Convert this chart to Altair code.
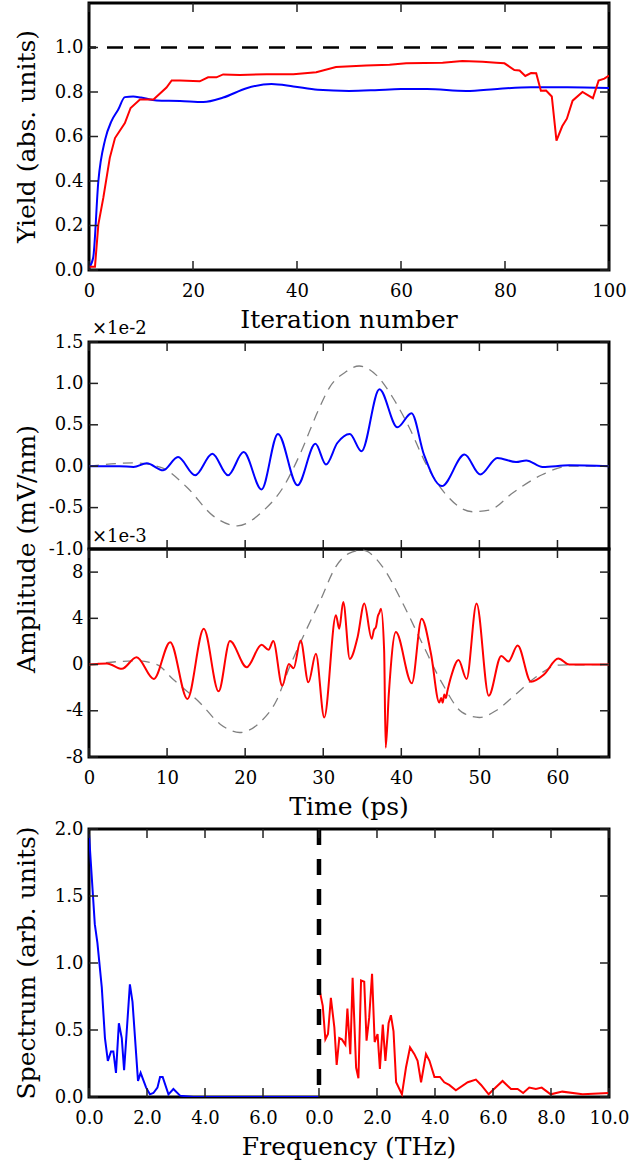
import altair as alt
import pandas as pd

FONT = "DejaVu Serif"
W = 520
H1, H2, H3, H4 = 267, 207, 208, 268
GAP = 72
TL = 9  # inward tick length
TICK_COLOR = "#222222"
TITLE_SIZE = 25

# ---------------- Panel 1: yield vs iteration ----------------
iter_blue = [0, 0.8, 1.8, 3.1, 4.3, 5.6, 6.9, 8.5, 10, 13, 17.5, 22, 25.8, 30.3, 35.1, 39.3,
             44, 50, 55, 60, 65, 72.5, 79, 85, 92, 100]
yield_blue = [0.01, 0.055, 0.40, 0.586, 0.668, 0.72, 0.777, 0.78, 0.775, 0.762, 0.760, 0.755,
              0.775, 0.817, 0.836, 0.825, 0.81, 0.805, 0.808, 0.813, 0.813, 0.805, 0.815,
              0.821, 0.821, 0.818]
iter_red = [0, 1.15, 1.8, 2.75, 4.0, 5.0, 6.9, 8.0, 9.8, 12.4, 14.9, 15.9, 17.5, 21.3, 22.9,
            24.5, 25.8, 29, 34.2, 39.3, 43.7, 47.5, 53.3, 57.8, 61, 68, 71.8, 75.7, 78.3,
            79.9, 81.8, 82.8, 83.9, 85.0, 86.0, 86.9, 87.9, 89.0, 89.9, 91.0, 91.9, 93.0,
            94.9, 96.9, 98.0, 99.1, 100]
yield_red = [0.015, 0.015, 0.205, 0.324, 0.504, 0.593, 0.66, 0.728, 0.766, 0.766, 0.82, 0.852,
             0.852, 0.848, 0.866, 0.866, 0.879, 0.876, 0.880, 0.880, 0.889, 0.912, 0.919,
             0.922, 0.929, 0.932, 0.939, 0.936, 0.932, 0.929, 0.899, 0.897, 0.872, 0.885,
             0.884, 0.806, 0.807, 0.780, 0.581, 0.646, 0.680, 0.761, 0.80, 0.772, 0.851,
             0.860, 0.874]
ref_level = [1.0]
p1_xticks = [0, 20, 40, 60, 80, 100]
p1_yticks = [0.0, 0.2, 0.4, 0.6, 0.8, 1.0]

# ---------------- Panel 2: blue waveform (x1e-2) ----------------
t_blue = [0, 3.9, 5.7, 7.4, 9.5, 11.4, 13.6, 15.8, 17.8, 19.8, 22.1, 24.2, 26.7, 29.0, 30.35,
          31.8, 33.4, 34.9, 37.2, 39.5, 41.3, 42.9, 45.2, 48.1, 50.1, 52.3, 54.7, 56.0, 58.1,
          61.5, 66.6]
amp_blue = [0, 0, -0.01, 0.035, -0.05, 0.11, -0.11, 0.15, -0.11, 0.17, -0.28, 0.39, -0.23, 0.27,
            0.02, 0.28, 0.39, 0.18, 0.93, 0.47, 0.64, 0.14, -0.24, 0.14, -0.10, 0.10, 0.05,
            0.07, -0.01, 0.01, 0]
t_env_blue = [0, 5.7, 9.1, 12.5, 15.9, 19.0, 22.3, 24.9, 27.0, 29.3, 30.8, 32.9, 34.6, 36.8,
              38.9, 41.0, 43.2, 45.7, 49.1, 51.3, 54.3, 58.1, 61.5, 66.6]
env_blue = [0, 0.04, -0.01, -0.25, -0.60, -0.72, -0.54, -0.25, 0.14, 0.66, 0.95, 1.14, 1.21,
            1.10, 0.83, 0.47, 0.02, -0.34, -0.55, -0.53, -0.32, -0.10, 0, 0]
p2_yticks = [-1.0, -0.5, 0.0, 0.5, 1.0, 1.5]

# ---------------- Panel 3: red waveform (x1e-3) ----------------
t_red = [0, 2.3, 4.2, 6.1, 8.3, 10.4, 12.6, 14.7, 16.6, 18.05, 20.2, 22.1, 23.0, 23.6, 24.75,
         25.6, 26.2, 27.1, 28.1, 29.06, 30.13, 31.63, 32.05, 32.56, 33.4, 34.4, 35.26, 36.2,
         36.5, 36.75, 37.0, 37.2, 37.4, 37.8, 38.0, 38.4, 39.3, 41.35, 42.6, 43.8, 44.86,
         45.1, 45.3, 45.5, 45.7, 45.9, 46.35, 47.33, 48.36, 49.64, 51.2, 52.8, 53.7, 54.9,
         56.6, 58.3, 60.1, 61.5, 66.6]
amp_red = [0, 0.1, -0.37, 0.64, -1.25, 1.94, -2.98, 3.1, -2.32, 2.03, -0.23, 1.71, 1.28, 2.03,
           -1.83, 0.05, -0.33, 2.09, -1.54, 0.93, -4.58, 4.26, 3.1, 5.42, 0.49, 2.37, 5.28,
           2.23, 3.0, 3.25, 4.2, 4.5, 4.84, 1.22, -7.19, -2.54, 2.81, -1.62, 3.97, 0.93,
           -3.28, -2.9, -3.3, -2.6, -2.9, -2.3, -1.1, 0.4, -1.25, 5.28, -2.70, 0.75, 0.26,
           1.65, -1.48, -0.84, 0.52, 0, 0]
t_env_red = [0, 6.1, 8.7, 10.8, 14.2, 16.8, 19.3, 21.9, 24.0, 25.7, 27.8, 29.6, 31.6, 33.3,
             35.0, 37.6, 40.2, 42.7, 45.3, 47.8, 50.0, 52.1, 54.7, 57.2, 60.2, 66.6]
env_red = [0, 0.32, 0, -1.3, -3.3, -5.16, -5.88, -5.0, -3.13, -0.2, 2.96, 5.5, 8.46, 9.62,
           9.9, 8.46, 5.28, 1.8, -1.7, -4.14, -4.58, -4.0, -2.55, -1.1, -0.05, 0]
p3_yticks = [-8, -4, 0, 4, 8]
time_ticks = [0, 10, 20, 30, 40, 50, 60]

# ---------------- Panel 4: spectra ----------------
SPLIT = 7.93  # where the second frequency axis starts
f_blue = [0, 0.2, 0.29, 0.44, 0.55, 0.65, 0.76, 0.84, 0.93, 1.03, 1.13, 1.21, 1.41, 1.5, 1.69,
          1.78, 1.97, 2.1, 2.22, 2.36, 2.45, 2.54, 2.74, 2.91, 3.14, 3.6, 5.0, 7.93]
s_blue = [1.96, 1.29, 1.15, 0.82, 0.44, 0.27, 0.34, 0.34, 0.18, 0.55, 0.44, 0.20, 0.84, 0.71,
          0.12, 0.18, 0.07, 0.02, 0.03, 0.07, 0.15, 0.15, 0.02, 0.06, 0.01, 0.0, 0.0, 0.0]
f_red = [0.0, 0.13, 0.22, 0.31, 0.41, 0.53, 0.61, 0.70, 0.79, 0.91, 0.98, 1.08, 1.16, 1.28,
         1.36, 1.45, 1.56, 1.64, 1.73, 1.83, 1.92, 2.02, 2.10, 2.20, 2.29, 2.40, 2.48, 2.57,
         2.66, 2.86, 3.0, 3.14, 3.29, 3.40, 3.52, 3.69, 3.81, 3.98, 4.17, 4.32, 4.49, 4.72,
         5.13, 5.41, 5.59, 5.85, 5.99, 6.33, 6.62, 6.85, 7.04, 7.25, 7.48, 7.68, 7.99, 8.39,
         9.09, 9.99]
s_red = [0.82, 0.68, 0.43, 0.47, 0.74, 0.52, 0.24, 0.44, 0.43, 0.39, 0.66, 0.32, 0.89, 0.22,
         0.14, 0.87, 0.86, 0.42, 0.59, 0.92, 0.41, 0.47, 0.21, 0.54, 0.27, 0.55, 0.61, 0.49,
         0.11, 0.02, 0.22, 0.37, 0.32, 0.27, 0.11, 0.32, 0.27, 0.15, 0.15, 0.11, 0.09, 0.05,
         0.11, 0.13, 0.09, 0.02, 0.05, 0.12, 0.06, 0.06, 0.03, 0.07, 0.06, 0.07, 0.02, 0.04,
         0.02, 0.03]
freq_ticks_left = [0, 2, 4, 6]
freq_ticks_right = [0, 2, 4, 6, 8, 10]
p4_yticks = [0.0, 0.5, 1.0, 1.5, 2.0]


def inward_ticks(xs, ys, h, xscale, yscale, xaxis, yaxis):
    dx = pd.DataFrame({"v": xs})
    dy = pd.DataFrame({"v": ys})
    st = dict(color=TICK_COLOR, strokeWidth=1.5)
    X = alt.X("v:Q", scale=xscale, axis=xaxis)
    Y = alt.Y("v:Q", scale=yscale, axis=yaxis)
    return [
        alt.Chart(dx).mark_rule(**st).encode(x=X, y=alt.value(h), y2=alt.value(h - TL)),
        alt.Chart(dx).mark_rule(**st).encode(x=X, y=alt.value(0), y2=alt.value(TL)),
        alt.Chart(dy).mark_rule(**st).encode(y=Y, x=alt.value(0), x2=alt.value(TL)),
        alt.Chart(dy).mark_rule(**st).encode(y=Y, x=alt.value(W), x2=alt.value(W - TL)),
    ]


def label(text, x, y, size=TITLE_SIZE, angle=0, align="center", baseline="middle"):
    kw = dict(font=FONT, fontSize=size, color="black", align=align, baseline=baseline)
    if angle:
        kw["angle"] = angle
    return alt.Chart(pd.DataFrame({"t": [text]})).mark_text(**kw).encode(
        text="t:N", x=alt.value(x), y=alt.value(y))


def line(df, xcol, ycol, xs, ys, xaxis, yaxis, color, width=2.0, dash=None, interp="linear"):
    kw = dict(color=color, strokeWidth=width, interpolate=interp, clip=True)
    if dash:
        kw["strokeDash"] = dash
    return alt.Chart(df).mark_line(**kw).encode(
        x=alt.X(f"{xcol}:Q", scale=xs, axis=xaxis),
        y=alt.Y(f"{ycol}:Q", scale=ys, axis=yaxis),
        order=alt.Order(f"{xcol}:Q"),
    )


def spacer():
    return alt.Chart(pd.DataFrame({"v": [0]})).mark_point(opacity=0).encode(
        x=alt.value(0), y=alt.value(0)
    ).properties(width=W, height=GAP, view=alt.ViewBackground(strokeOpacity=0, strokeWidth=0))


TITLE_X = -62
XTITLE_DY = 58

# ----- Panel 1 -----
xs1 = alt.Scale(domain=[0, 100], nice=False, zero=False)
ys1 = alt.Scale(domain=[0, 1.2], nice=False, zero=False)
ax1x = alt.Axis(values=p1_xticks, format="d", title=None)
ax1y = alt.Axis(values=p1_yticks, format=".1f", title=None)
df_b1 = pd.DataFrame({"it": iter_blue, "y": yield_blue})
df_r1 = pd.DataFrame({"it": iter_red, "y": yield_red})
p1 = alt.layer(
    alt.Chart(pd.DataFrame({"v": ref_level})).mark_rule(color="black", strokeWidth=2.5, strokeDash=[16, 11]).encode(
        y=alt.Y("v:Q", scale=ys1, axis=ax1y)),
    line(df_b1, "it", "y", xs1, ys1, ax1x, ax1y, "#0000ff", interp="monotone"),
    line(df_r1, "it", "y", xs1, ys1, ax1x, ax1y, "#ff0000"),
    *inward_ticks(p1_xticks, p1_yticks, H1, xs1, ys1, ax1x, ax1y),
    label("Yield (abs. units)", TITLE_X, H1 / 2, angle=270),
    label("Iteration number", W / 2, H1 + XTITLE_DY, baseline="alphabetic"),
).properties(width=W, height=H1)

# ----- Panel 2 -----
xs2 = alt.Scale(domain=[0, 66.6], nice=False, zero=False)
ys2 = alt.Scale(domain=[-1.0, 1.5], nice=False, zero=False)
ax2x = alt.Axis(values=time_ticks, labels=False, title=None)
ax2y = alt.Axis(values=p2_yticks, title=None,
                labelExpr="(datum.value < 0 ? '-' : '') + format(abs(datum.value), '.1f')")
df_b2 = pd.DataFrame({"t": t_blue, "a": amp_blue})
df_e2 = pd.DataFrame({"t": t_env_blue, "a": env_blue})
p2 = alt.layer(
    line(df_e2, "t", "a", xs2, ys2, ax2x, ax2y, "#808080", width=1.3, dash=[10, 7], interp="monotone"),
    line(df_b2, "t", "a", xs2, ys2, ax2x, ax2y, "#0000ff", interp="monotone"),
    *inward_ticks(time_ticks, p2_yticks, H2, xs2, ys2, ax2x, ax2y),
    label("\u00d71e-2", 3, -8, size=18, align="left", baseline="alphabetic"),
).properties(width=W, height=H2)

# ----- Panel 3 -----
ys3 = alt.Scale(domain=[-8, 10], nice=False, zero=False)
ax3x = alt.Axis(values=time_ticks, format="d", title=None)
ax3y = alt.Axis(values=p3_yticks, title=None,
                labelExpr="(datum.value < 0 ? '-' : '') + format(abs(datum.value), 'd')")
df_r3 = pd.DataFrame({"t": t_red, "a": amp_red})
df_e3 = pd.DataFrame({"t": t_env_red, "a": env_red})
p3 = alt.layer(
    line(df_e3, "t", "a", xs2, ys3, ax3x, ax3y, "#808080", width=1.3, dash=[10, 7], interp="monotone"),
    line(df_r3, "t", "a", xs2, ys3, ax3x, ax3y, "#ff0000", interp="monotone"),
    *inward_ticks(time_ticks, p3_yticks, H3, xs2, ys3, ax3x, ax3y),
    label("\u00d71e-3", 3, -7, size=18, align="left", baseline="alphabetic"),
    label("Amplitude (mV/nm)", TITLE_X, 0, angle=270),
    label("Time (ps)", W / 2, H3 + XTITLE_DY, baseline="alphabetic"),
).properties(width=W, height=H3)

# ----- Panel 4 -----
freq_positions = freq_ticks_left + [SPLIT + f for f in freq_ticks_right]
xs4 = alt.Scale(domain=[0, SPLIT + 10], nice=False, zero=False)
ys4 = alt.Scale(domain=[0, 2.0], nice=False, zero=False)
ax4x = alt.Axis(values=freq_positions, title=None,
                labelExpr=f"datum.value < {SPLIT - 0.01} ? format(datum.value, '.1f') : format(datum.value - {SPLIT}, '.1f')")
ax4y = alt.Axis(values=p4_yticks, format=".1f", title=None)
df_b4 = pd.DataFrame({"f": f_blue, "s": s_blue})
df_r4 = pd.DataFrame({"f": [SPLIT + f for f in f_red], "s": s_red})
p4 = alt.layer(
    line(df_b4, "f", "s", xs4, ys4, ax4x, ax4y, "#0000ff"),
    line(df_r4, "f", "s", xs4, ys4, ax4x, ax4y, "#ff0000"),
    alt.Chart(pd.DataFrame({"v": [SPLIT]})).mark_rule(color="black", strokeWidth=4.5, strokeDash=[16, 14]).encode(
        x=alt.X("v:Q", scale=xs4, axis=ax4x)),
    *inward_ticks(freq_positions, p4_yticks, H4, xs4, ys4, ax4x, ax4y),
    label("Spectrum (arb. units)", TITLE_X, H4 / 2, angle=270),
    label("Frequency (THz)", W / 2, H4 + XTITLE_DY, baseline="alphabetic"),
).properties(width=W, height=H4)

chart = alt.vconcat(p1, spacer(), p2, p3, spacer(), p4, spacing=0, bounds="flush").properties(
    padding={"left": 13, "top": 0, "right": 4, "bottom": 4}
).configure_view(
    stroke="black", strokeWidth=3
).configure_axis(
    labelFont=FONT, labelFontSize=18, labelColor="black", ticks=False, tickSize=0,
    domain=False, grid=False, labelOverlap=False, labelFlush=False
).configure_axisX(labelPadding=12).configure_axisY(labelPadding=6)

chart.save("out.html", embed_options={"renderer": "svg", "actions": False})
